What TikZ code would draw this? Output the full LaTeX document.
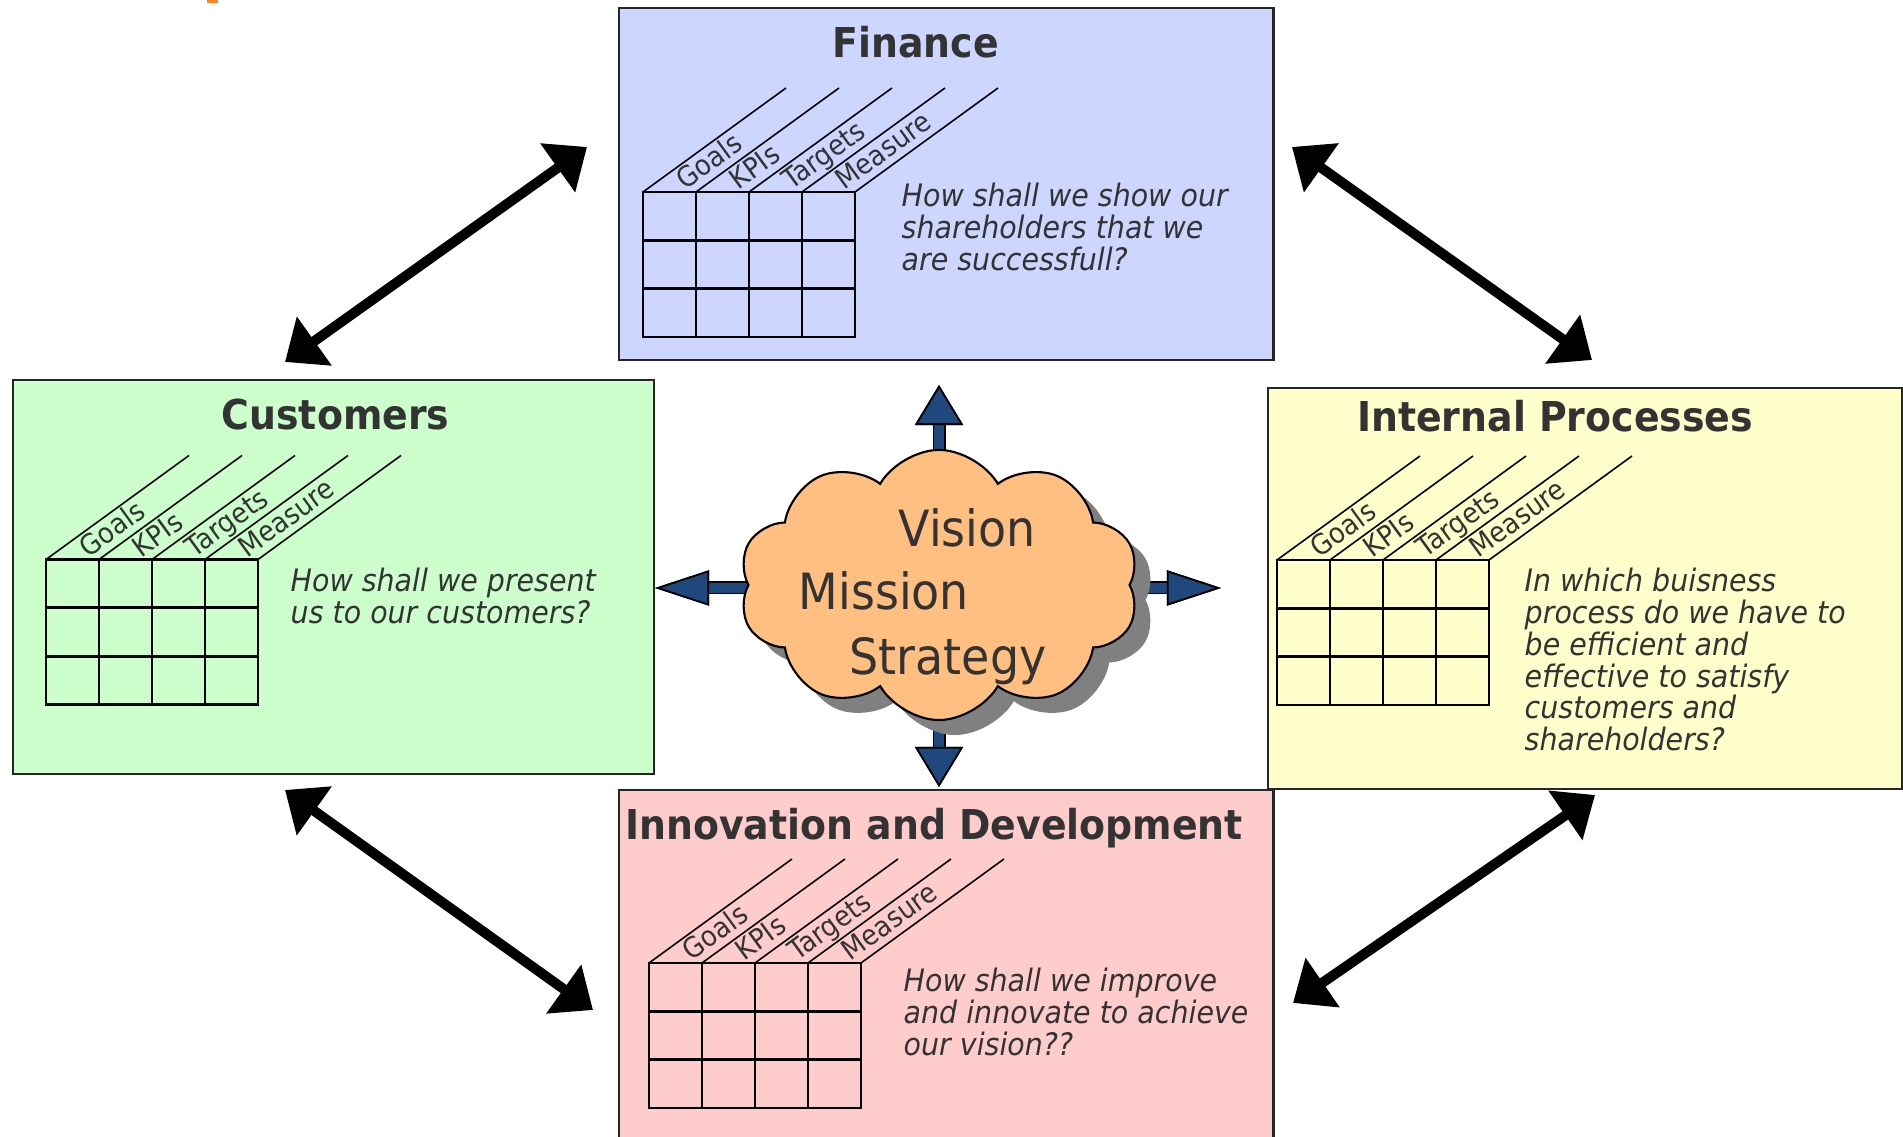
\documentclass[tikz,border=0pt]{standalone}
\usepackage{fontspec}
\setmainfont{DejaVu Sans}[FakeStretch=0.92]
\usepackage{tikz}
\usetikzlibrary{shapes, shapes.symbols, arrows.meta, positioning, shadows, calc}

\definecolor{finfill}{HTML}{CCD6FF}
\definecolor{custfill}{HTML}{CCFFCC}
\definecolor{procfill}{HTML}{FFFFCC}
\definecolor{innofill}{HTML}{FFCCCC}
\definecolor{cloudfill}{HTML}{FFBF80}
\definecolor{arrowblue}{HTML}{1F497D}
\definecolor{shadowgray}{HTML}{808080}
\definecolor{txt}{HTML}{333333}
\definecolor{tickorange}{HTML}{FF8020}

% one Goals/KPIs/Targets/Measure table, top left corner at #1,#2
\newcommand{\kpigrid}[2]{%
  \begin{scope}[shift={(#1,#2)}]
    \foreach \i in {0,...,4} {
      \draw[Cell] (\i*53,0) -- (\i*53,-145);
      \draw[Rail] (\i*53,0) -- ++(143,104);
    }
    \foreach \j in {0,...,3}
      \draw[Cell] (0,-\j*48.33) -- (212,-\j*48.33);
    \foreach \i/\t in {0/Goals,1/KPIs,2/Targets,3/Measure}
      \node[Tag] at (\i*53+42,1) {\t};
  \end{scope}}

\begin{document}
\begin{tikzpicture}
  [
    x=0.01cm, y=0.01cm,
    Box/.style={rectangle, draw=black!85, line width=0.6pt, inner sep=0, anchor=north west},
    Title/.style={font=\bfseries\fontsize{11.7}{14}\selectfont, text=txt, inner sep=0, anchor=base},
    Ask/.style={font=\itshape\fontsize{8.8}{9.02}\selectfont, text=txt, align=left, inner sep=0, anchor=base west},
    Tag/.style={font=\fontsize{8}{9.6}\selectfont, text=txt, inner sep=0, anchor=base west, rotate=36},
    Cell/.style={draw=black, line width=0.8pt, line cap=rect},
    Rail/.style={draw=black, line width=0.45pt},
    Cloud/.style={cloud, cloud puffs=10, cloud puff arc=120, aspect=1.5, draw=black, line width=0.6pt,
      fill=cloudfill, minimum width=4cm, minimum height=2.7cm,
      drop shadow={shadow xshift=0.16cm, shadow yshift=-0.15cm, fill=shadowgray, opacity=1}},
    Word/.style={font=\fontsize{14.2}{17}\selectfont, text=txt, inner sep=0, anchor=base west},
    Both/.style={draw, line width=0.1cm,
      {Triangle[length=0.36cm, width=0.58cm]}-{Triangle[length=0.36cm, width=0.58cm]}},
    UpDown/.style={draw=arrowblue, line width=0.105cm, preaction={draw=black, line width=0.13cm},
      -{Triangle[length=0.4cm, width=0.48cm, fill=arrowblue, color=black, line width=0.5pt]}},
    LeftRight/.style={draw=arrowblue, line width=0.105cm, preaction={draw=black, line width=0.13cm},
      -{Triangle[length=0.54cm, width=0.35cm, fill=arrowblue, color=black, line width=0.5pt]}}
  ]
  \useasboundingbox (0,0) rectangle (1903,1137);
  \fill[tickorange] (207,1134) rectangle (218,1138);

  % Boxes
  \node[Box, fill=finfill, minimum width=6.54cm, minimum height=3.52cm] (fin) at(618, 1130) {};
  \node[Box, fill=custfill, minimum width=6.41cm, minimum height=3.94cm] (cust) at(12, 758) {};
  \node[Box, fill=procfill, minimum width=6.34cm, minimum height=4.01cm] (proc) at(1267, 750) {};
  \node[Box, fill=innofill, minimum width=6.54cm, minimum height=3.60cm] (inno) at(618, 348) {};

  % Titles
  \node[Title] (fint) at(915.5, 1079) {Finance};
  \node[Title] (custt) at(335.5, 707) {Customers};
  \node[Title] (proct) at(1555, 705) {Internal Processes};
  \node[Title] (innot) at(934, 297) {Innovation and Development};

  % Tables
  \kpigrid{643}{945}
  \kpigrid{46}{577.5}
  \kpigrid{1277}{577}
  \kpigrid{649}{174}

  % Questions (placed by the baseline of their last line)
  \node[Ask] (finq) at(901, 866.6) {How shall we show our\\shareholders that we\\are successfull?};
  \node[Ask] (custq) at(290, 513.3) {How shall we present\\us to our customers?};
  \node[Ask] (procq) at(1524, 386.5) {In which buisness\\process do we have to\\be efficient and\\effective to satisfy\\customers and\\shareholders?};
  \node[Ask] (innoq) at(903, 81.6) {How shall we improve\\and innovate to achieve\\our vision??};

  % Double arrows between the boxes
  \coordinate (tlA) at(285, 775);
  \coordinate (tlB) at(587, 990);
  \coordinate (trA) at(1292, 990);
  \coordinate (trB) at(1592, 777);
  \coordinate (blA) at(285, 347);
  \coordinate (blB) at(593, 127);
  \coordinate (brA) at(1293, 134);
  \coordinate (brB) at(1595, 342);
  \path [Both] (tlA) -- (tlB);
  \path [Both] (trA) -- (trB);
  \path [Both] (blA) -- (blB);
  \path [Both] (brA) -- (brB);

  % Arrows out of the cloud
  \coordinate (mid) at(939, 552);
  \coordinate (up) at(939, 752);
  \coordinate (down) at(939, 350);
  \coordinate (left) at(655, 549);
  \coordinate (right) at(1221, 549);
  \path [UpDown] (mid) -- (up);
  \path [UpDown] (mid) -- (down);
  \path [LeftRight] (mid |- left) -- (left);
  \path [LeftRight] (mid |- right) -- (right);

  % Cloud
  \node[Cloud] (vms) at(mid) {};
  \node[Word] (vis) at(898, 590) {Vision};
  \node[Word] (mis) at(798, 527) {Mission};
  \node[Word] (str) at(849, 462) {Strategy};

\end{tikzpicture}
\end{document}
